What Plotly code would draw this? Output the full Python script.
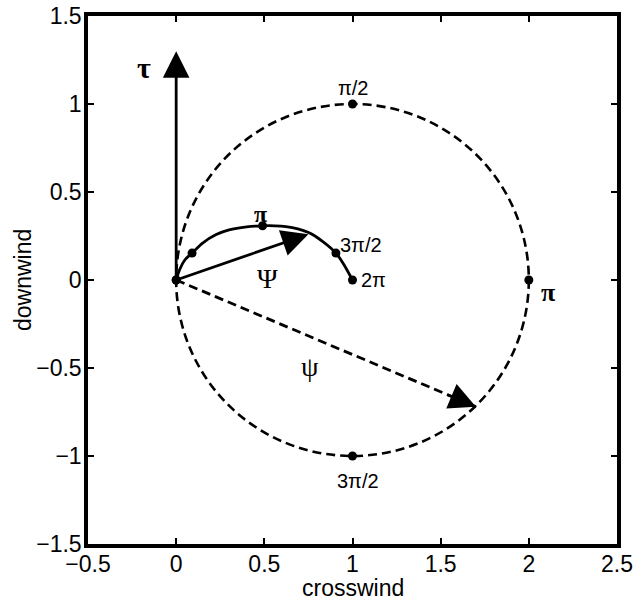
import plotly.graph_objects as go

# --- data ---
# dashed circle (phase points) centre (1,0), radius 1
circle_x0, circle_y0, circle_x1, circle_y1 = 0, -1, 2, 1
circle_pts_x = [0, 1, 2, 1]
circle_pts_y = [0, 1, 0, -1]

# solid curve (Psi path)
curve_x = [0, 0.02, 0.05, 0.09, 0.15, 0.227, 0.3, 0.4, 0.49, 0.56, 0.623, 0.69, 0.754, 0.83, 0.906, 0.95, 1.0]
curve_y = [0, 0.06, 0.115, 0.153, 0.21, 0.258, 0.285, 0.302, 0.308, 0.308, 0.303, 0.29, 0.268, 0.22, 0.153, 0.09, 0]
curve_pts_x = [0, 0.09, 0.49, 0.906, 1.0]
curve_pts_y = [0, 0.153, 0.308, 0.153, 0]

# vectors (tail, tip)
tau_x, tau_y = [0, 0], [0, 1.3]
Psi_x, Psi_y = [0, 0.75], [0, 0.26]
psi_x, psi_y = [0, 1.7], [0, -0.72]

x_ticks = [-0.5, 0, 0.5, 1, 1.5, 2, 2.5]
y_ticks = [-1.5, -1, -0.5, 0, 0.5, 1, 1.5]

sans = "Liberation Sans"
serif = "Liberation Serif"
DASH = "9px,5px"

fig = go.Figure()

fig.add_shape(type="circle", xref="x", yref="y", x0=circle_x0, y0=circle_y0,
              x1=circle_x1, y1=circle_y1,
              line=dict(color="black", width=2.6, dash=DASH))

fig.add_trace(go.Scatter(x=curve_x, y=curve_y, mode="lines",
                         line=dict(color="black", width=2.8, shape="spline", smoothing=0.8),
                         hoverinfo="skip"))

# dashed shaft of psi
fig.add_trace(go.Scatter(x=psi_x, y=psi_y, mode="lines",
                         line=dict(color="black", width=2.8, dash=DASH),
                         hoverinfo="skip"))

def arrow(xs, ys, frac):
    tx = xs[0] + (xs[1] - xs[0]) * frac
    ty = ys[0] + (ys[1] - ys[0]) * frac
    fig.add_annotation(x=xs[1], y=ys[1], ax=tx, ay=ty, xref="x", yref="y",
                       axref="x", ayref="y", text="", showarrow=True,
                       arrowhead=2, arrowsize=1.9, arrowwidth=2.8,
                       arrowcolor="black")

arrow(tau_x, tau_y, 0.0)
arrow(Psi_x, Psi_y, 0.0)
arrow(psi_x, psi_y, 0.9)

fig.add_trace(go.Scatter(x=circle_pts_x, y=circle_pts_y, mode="markers",
                         marker=dict(color="black", size=9), hoverinfo="skip"))
fig.add_trace(go.Scatter(x=curve_pts_x, y=curve_pts_y, mode="markers",
                         marker=dict(color="black", size=9), hoverinfo="skip"))

labels = [
    (-0.18, 1.21, "<b>τ</b>", serif, 30),
    (1.0, 1.09, "π/2", sans, 20),
    (2.11, -0.07, "<b>π</b>", serif, 26),
    (1.03, -1.14, "3π/2", sans, 20),
    (0.48, 0.375, "<b>π</b>", serif, 24),
    (1.05, 0.2, "3π/2", sans, 20),
    (1.12, 0.0, "2π", sans, 20),
    (0.52, 0.01, "Ψ", serif, 28),
    (0.76, -0.49, "ψ", serif, 28),
]
for x, y, t, f, s in labels:
    fig.add_annotation(x=x, y=y, text=t, showarrow=False,
                       font=dict(family=f, size=s, color="black"))

# axis titles
fig.add_annotation(x=0.5, y=0, xref="paper", yref="paper", yanchor="middle",
                   yshift=-44, text="crosswind", showarrow=False,
                   font=dict(family=sans, size=23, color="black"))
fig.add_annotation(x=0, y=0.5, xref="paper", yref="paper", xanchor="center",
                   xshift=-65, text="downwind", textangle=-90,
                   showarrow=False,
                   font=dict(family=sans, size=23, color="black"))

axis_common = dict(showline=True, linecolor="black", linewidth=3.5, mirror="allticks",
                   ticks="inside", ticklen=6, tickwidth=2, tickcolor="black",
                   showgrid=False, zeroline=False, automargin=False,
                   tickfont=dict(family=sans, size=23, color="black"))

fig.update_layout(
    width=643, height=601,
    margin=dict(l=88, r=26, t=16, b=57),
    paper_bgcolor="white", plot_bgcolor="white",
    showlegend=False,
    xaxis=dict(range=[-0.5, 2.5], tickvals=x_ticks,
               ticktext=[("−" if v < 0 else "") + f"{abs(v):g}" for v in x_ticks],
               ticklabelstandoff=-3,
               **axis_common),
    yaxis=dict(range=[-1.5, 1.5], tickvals=y_ticks,
               ticktext=[("−" if v < 0 else "") + f"{abs(v):g}" for v in y_ticks],
               ticklabelstandoff=-2,
               **axis_common),
)

fig.write_html("out.html")
